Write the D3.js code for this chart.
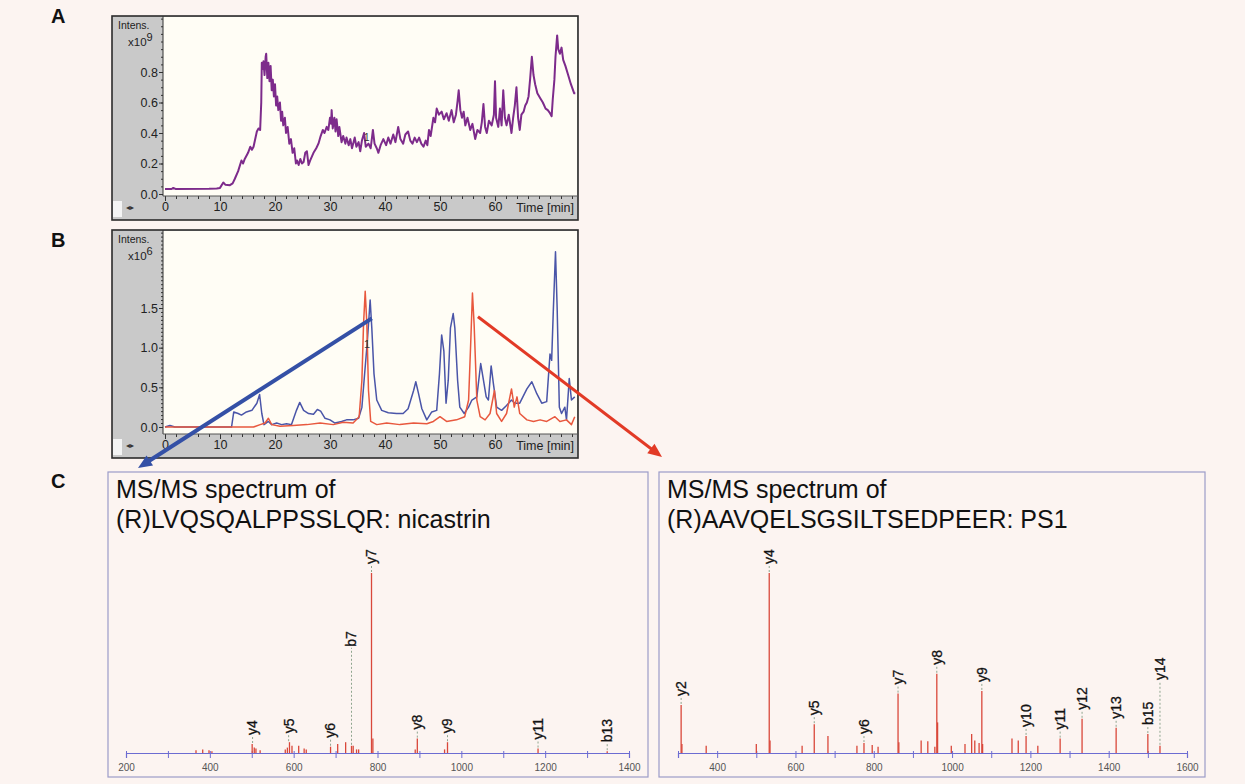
<!DOCTYPE html>
<html>
<head>
<meta charset="utf-8">
<script src="https://cdn.jsdelivr.net/npm/d3@7"></script>
<style>
  body { margin: 0; background: #fcf4f1; }
  svg { display: block; font-family: "Liberation Sans", Arial, sans-serif; }
</style>
</head>
<body>
<div id="fig"></div>
<script>
// ---- data ----
// A: base peak / TIC chromatogram, [time min, intensity x10^9]
const ticA = [
  [0,0.033],[1.2,0.033],[1.5,0.04],[1.9,0.033],[8,0.034],[9.4,0.036],[10,0.04],[10.6,0.075],[11,0.06],
  [11.8,0.058],[12.3,0.07],[12.7,0.10],[13.3,0.15],[13.9,0.22],[14.2,0.20],[14.5,0.23],[15.1,0.27],
  [15.5,0.31],[15.8,0.29],[16.1,0.31],[16.7,0.41],[17.0,0.43],[17.3,0.42],[17.5,0.60],[17.6,0.86],
  [17.8,0.82],[17.9,0.87],[18.1,0.78],[18.3,0.90],[18.4,0.92],[18.6,0.76],[18.8,0.86],[19.0,0.74],
  [19.2,0.84],[19.4,0.68],[19.6,0.75],[19.8,0.64],[20.0,0.72],[20.2,0.58],[20.4,0.64],[20.6,0.55],
  [20.9,0.60],[21.1,0.48],[21.3,0.54],[21.5,0.45],[21.8,0.50],[22.0,0.40],[22.3,0.44],[22.6,0.33],
  [22.9,0.36],[23.2,0.27],[23.5,0.30],[23.8,0.20],[24.0,0.22],[24.3,0.19],[24.6,0.23],[24.9,0.20],
  [25.2,0.21],[25.5,0.27],[25.8,0.28],[26.1,0.19],[26.4,0.22],[27.0,0.27],[27.5,0.30],[27.9,0.33],
  [28.3,0.38],[28.7,0.42],[29.0,0.40],[29.4,0.44],[29.7,0.42],[30.0,0.50],[30.2,0.46],[30.3,0.55],
  [30.5,0.43],[30.8,0.50],[31.0,0.41],[31.2,0.49],[31.5,0.38],[31.7,0.44],[32.1,0.34],[32.4,0.38],
  [32.8,0.33],[33.0,0.37],[33.4,0.32],[33.7,0.36],[34.0,0.30],[34.5,0.37],[34.8,0.31],[35.2,0.34],
  [35.5,0.28],[35.8,0.35],[36.2,0.40],[36.5,0.31],[37.0,0.33],[37.4,0.30],[37.8,0.42],[38.1,0.33],
  [38.5,0.30],[38.8,0.27],[39.2,0.32],[39.7,0.36],[40.2,0.32],[40.6,0.37],[41.0,0.33],[41.5,0.39],
  [41.9,0.34],[42.4,0.44],[42.8,0.36],[43.3,0.33],[43.7,0.39],[44.2,0.41],[44.6,0.35],[45.0,0.33],
  [45.4,0.37],[45.8,0.34],[46.2,0.37],[46.6,0.33],[47.0,0.31],[47.4,0.35],[47.7,0.32],[48.0,0.42],
  [48.3,0.38],[48.8,0.50],[49.1,0.47],[49.4,0.56],[49.8,0.52],[50.3,0.54],[50.7,0.49],[51.2,0.53],
  [51.6,0.48],[52.1,0.55],[52.5,0.47],[52.9,0.52],[53.2,0.61],[53.4,0.68],[53.7,0.55],[54.0,0.50],
  [54.3,0.54],[54.6,0.45],[55.0,0.50],[55.5,0.42],[55.9,0.46],[56.4,0.36],[56.8,0.42],[57.3,0.40],
  [57.6,0.47],[57.9,0.59],[58.2,0.44],[58.5,0.40],[58.9,0.48],[59.4,0.45],[59.8,0.52],[60.0,0.74],
  [60.2,0.50],[60.6,0.44],[60.9,0.56],[61.2,0.45],[61.5,0.68],[61.8,0.50],[62.1,0.45],[62.5,0.52],
  [63.0,0.40],[63.3,0.50],[63.6,0.58],[63.9,0.70],[64.2,0.50],[64.5,0.42],[64.8,0.52],[65.2,0.54],
  [65.5,0.58],[65.8,0.60],[66.1,0.64],[66.4,0.76],[66.7,0.90],[67.0,0.78],[67.3,0.72],[67.7,0.66],
  [68.2,0.63],[68.7,0.60],[69.2,0.56],[69.6,0.55],[70.0,0.53],[70.3,0.51],[70.5,0.62],[70.8,0.75],
  [71.0,0.90],[71.3,1.04],[71.5,0.95],[71.8,0.92],[72.1,0.96],[72.4,0.88],[72.8,0.84],[73.3,0.78],
  [73.8,0.72],[74.4,0.66],[74.6,0.66]
];

// B: extracted ion chromatograms, [time min, intensity x10^6]
const eicBlue = [
  [0,0],[0.9,0.02],[1.8,0],[12.1,0],[12.5,0.19],[13.3,0.17],[13.9,0.15],[14.8,0.19],[15.8,0.21],
  [16.7,0.30],[17.2,0.41],[17.6,0.17],[18.0,0.03],[18.8,0.07],[19.4,0.03],[20.3,0.05],[21.2,0.03],
  [22.1,0.04],[23.0,0.03],[23.9,0.21],[24.5,0.31],[25.2,0.21],[26.1,0.17],[27.0,0.16],[27.7,0.22],
  [28.3,0.20],[29.1,0.11],[30.0,0.09],[30.9,0.05],[32.1,0.07],[33.0,0.09],[34.2,0.09],[35.2,0.11],
  [35.8,0.25],[36.2,0.59],[36.8,1.09],[37.3,1.60],[37.6,1.25],[38.0,0.67],[38.5,0.34],[39.4,0.21],
  [40.6,0.18],[42.1,0.17],[43.3,0.17],[44.2,0.23],[45.2,0.46],[45.6,0.57],[46.1,0.42],[46.7,0.23],
  [47.6,0.09],[48.5,0.19],[49.4,0.21],[49.9,0.67],[50.3,1.16],[50.7,0.96],[51.1,0.30],[51.5,0.59],
  [51.9,1.25],[52.4,1.43],[52.7,1.25],[53.2,0.59],[53.6,0.25],[54.4,0.17],[55.2,0.25],[55.8,0.34],
  [56.7,0.38],[57.4,0.80],[57.9,0.59],[58.4,0.38],[58.8,0.34],[59.3,0.77],[59.7,0.55],[60.3,0.25],
  [61.2,0.21],[62.1,0.27],[63.0,0.34],[63.6,0.30],[64.5,0.30],[65.8,0.48],[66.7,0.57],[67.6,0.42],
  [68.5,0.30],[69.4,0.32],[70.0,0.92],[70.3,0.84],[70.6,1.46],[71.0,2.21],[71.3,1.50],[71.7,0.25],
  [72.1,0.17],[72.7,0.25],[73.0,0.09],[73.5,0.61],[73.9,0.34],[74.5,0.38]
];
const eicRed = [
  [0,0],[16.1,0],[17.3,0.03],[18.2,0.05],[18.8,0.11],[19.4,0.03],[20.9,0.01],[23.3,0.02],[25.8,0.03],
  [28.2,0.05],[30.6,0.03],[32.4,0.06],[34.2,0.05],[35.3,0.13],[35.8,0.59],[36.1,1.30],[36.4,1.71],
  [36.7,1.30],[37.0,0.46],[37.4,0.07],[38.5,0.03],[40.3,0.05],[42.7,0.03],[45.2,0.05],[47.6,0.04],
  [48.8,0.07],[50.0,0.13],[51.2,0.07],[53.0,0.09],[54.5,0.13],[55.2,0.34],[55.6,1.09],[55.9,1.69],
  [56.2,1.30],[56.7,0.34],[57.3,0.13],[58.2,0.09],[59.1,0.17],[59.9,0.46],[60.3,0.17],[61.2,0.07],
  [62.1,0.17],[63.0,0.48],[63.5,0.25],[64.0,0.38],[64.5,0.17],[65.8,0.09],[67.0,0.07],[68.2,0.09],
  [69.4,0.07],[70.9,0.13],[71.8,0.07],[73.0,0.09],[73.9,0.03],[74.5,0.13]
];

const timeTicks = [0, 10, 20, 30, 40, 50, 60];
const ticksA = [0, 0.2, 0.4, 0.6, 0.8];
const ticksB = [0, 0.5, 1.0, 1.5];

// C: MS/MS peaks, [m/z, relative intensity %]
const peaksNic = [
  [367,1.5],[383,2],[398,1.5],[405,1],[501,5],[506,3],[510,2.5],[520,1.5],[580,2],[585,3],[590,6],
  [596,4],[612,4],[625,2.5],[630,2],[688,3.5],[705,5],[724,6],[738,4],[742,4],[750,2],[755,2],
  [785.7,100],[789,8],[890,2],[895,8],[960,2],[967,6],[1183,2.5],[1348,1]
];
const ionsNic = [
  // name, m/z, intensity %, label level %
  ["y4",502,5,5],["y5",588,6,6],["y6",688,3.5,3.5],["b7",738,4,54],["y7",785.7,100,100],
  ["y8",895,8,8],["y9",967,6,6],["y11",1183,2.5,2.5],["b13",1348,1,1]
];
const peaksPS1 = [
  [308,26.7],[310,5],[372,4],[500,5],[533,100],[535,7],[617,4],[648,16],[683,9.5],[757,4],[775,5.5],
  [796,4.5],[811,3.5],[862,33],[864,6],[921,7],[938,6.5],[956,3.5],[961,44],[963,17],[998,4],
  [1033,5],[1050,10.5],[1058,7],[1069,5.5],[1076,34.5],[1078,5],[1153,8],[1169,7],[1189,9.5],
  [1219,4],[1276,8],[1332,19],[1419,14],[1500,10.5],[1531,4]
];
const ionsPS1 = [
  ["y2",308,26.7,26.7],["y4",533,100,100],["y5",648,16,16],["y6",775,5.5,5.5],["y7",862,33,33],
  ["y8",961,44,44],["y9",1076,34.5,34.5],["y10",1189,9.5,9.5],["y11",1276,8,8],["y12",1332,19,19],
  ["y13",1419,14,14],["b15",1500,10.5,10.5],["y14",1531,4,35.5]
];

// ---- layout ----
const W = 1245, H = 784;
const svg = d3.select("#fig").append("svg").attr("width", W).attr("height", H);
svg.append("rect").attr("width", W).attr("height", H).attr("fill", "#fcf4f1");

const defs = svg.append("defs");
const xT = d3.scaleLinear().domain([0, 70]).range([165, 550]);

function panelLetter(txt, y) {
  svg.append("text").attr("x", 51).attr("y", y).attr("font-size", 20).attr("font-weight", "bold")
    .attr("fill", "#111").text(txt);
}

function drawChrom(id, top, bottom, y, ticks, minorStep, expo, series) {
  const boxL = 112, boxR = 578, plotL = 163, band = bottom - 24;
  const g = svg.append("g");
  g.append("rect").attr("x", boxL).attr("y", top).attr("width", boxR - boxL).attr("height", bottom - top)
    .attr("fill", "#c9c9c9").attr("stroke", "#2b2b2b").attr("stroke-width", 1.6);
  g.append("rect").attr("x", plotL).attr("y", top + 1).attr("width", boxR - plotL - 1).attr("height", band - top - 1)
    .attr("fill", "#fffdf5");

  defs.append("clipPath").attr("id", id).append("rect")
    .attr("x", plotL + 1).attr("y", top + 1).attr("width", boxR - plotL - 2).attr("height", band - top - 1);

  // minor y ticks
  const yMax = y.invert(top + 2);
  g.append("g").attr("transform", `translate(${plotL},0)`)
    .call(d3.axisLeft(y).tickValues(d3.range(0, yMax, minorStep)).tickSize(2).tickFormat(""))
    .call(a => a.select(".domain").remove());
  // major y ticks
  g.append("g").attr("transform", `translate(${plotL},0)`)
    .call(d3.axisLeft(y).tickValues(ticks).tickSize(4).tickPadding(1).tickFormat(d3.format(".1f")))
    .call(a => a.select(".domain").remove())
    .call(a => a.selectAll("text").attr("font-size", 12.5).attr("fill", "#222").attr("font-family", "Liberation Sans, Arial"));
  g.selectAll(".tick line").attr("stroke", "#333");

  // x ticks hanging from the grey band
  g.append("g").attr("transform", `translate(0,${band})`)
    .call(d3.axisBottom(xT).tickValues(d3.range(0, 75, 2)).tickSize(3).tickFormat(""))
    .call(a => a.select(".domain").remove());
  g.append("g").attr("transform", `translate(0,${band})`)
    .call(d3.axisBottom(xT).tickValues(timeTicks).tickSize(5).tickPadding(1))
    .call(a => a.select(".domain").remove())
    .call(a => a.selectAll("text").attr("font-size", 12.5).attr("fill", "#222").attr("font-family", "Liberation Sans, Arial"));
  g.selectAll(".tick line").attr("stroke", "#333");

  // axis lines
  g.append("line").attr("x1", plotL).attr("x2", plotL).attr("y1", top).attr("y2", band).attr("stroke", "#333");
  g.append("line").attr("x1", plotL).attr("x2", boxR).attr("y1", band).attr("y2", band).attr("stroke", "#555");

  g.append("text").attr("x", boxR - 4).attr("y", band + 16).attr("text-anchor", "end")
    .attr("font-size", 12.5).attr("fill", "#222").text("Time [min]");
  g.append("text").attr("x", 118).attr("y", top + 13).attr("font-size", 10.5).attr("fill", "#222").text("Intens.");
  const ex = g.append("text").attr("x", 128).attr("y", top + 30).attr("font-size", 11.5).attr("fill", "#222");
  ex.append("tspan").text("x10");
  ex.append("tspan").attr("dy", -5).attr("font-size", 11).text(expo);

  // little scroll widget bottom left
  g.append("rect").attr("x", boxL + 1).attr("y", band + 5).attr("width", 9).attr("height", 16).attr("fill", "#f4f4f4");
  g.append("text").attr("x", 126).attr("y", band + 14).attr("font-size", 8).attr("fill", "#333").text("◂▸");

  const line = d3.line().x(d => xT(d[0])).y(d => y(d[1]));
  const traces = g.append("g").attr("clip-path", `url(#${id})`);
  series.forEach(s => {
    traces.append("path").datum(s.data).attr("d", line).attr("fill", "none")
      .attr("stroke", s.color).attr("stroke-width", s.width).attr("stroke-linejoin", "round");
  });
  return g;
}

// A
panelLetter("A", 23);
const yA = d3.scaleLinear().domain([0, 0.8]).range([194, 72]);
const gA = drawChrom("clipA", 16, 220, yA, ticksA, 0.05, "9", [{ data: ticA, color: "#7d2b8b", width: 2 }]);
gA.append("text").attr("x", xT(36.2)).attr("y", yA(0.35)).attr("font-size", 10).attr("fill", "#333").text("1");

// B
panelLetter("B", 247);
const yB = d3.scaleLinear().domain([0, 1.5]).range([427, 308]);
const gB = drawChrom("clipB", 230, 458, yB, ticksB, 0.05, "6", [
  { data: eicBlue, color: "#4a55a8", width: 1.5 },
  { data: eicRed, color: "#e8583e", width: 1.5 }
]);
gB.append("text").attr("x", xT(36.2)).attr("y", yB(1.0)).attr("font-size", 11).attr("fill", "#333").text("1");

// C
panelLetter("C", 488);

function drawSpectrum(boxX, boxW, domain, range, axisFrom, peaks, ions, title) {
  const base = 753;
  const g = svg.append("g");
  g.append("rect").attr("x", boxX).attr("y", 472).attr("width", boxW).attr("height", 305)
    .attr("fill", "#fcf4f1").attr("stroke", "#9b9bc9").attr("stroke-width", 1.2);
  title.forEach((t, i) => {
    g.append("text").attr("x", boxX + 8).attr("y", 498 + i * 30).attr("font-size", 25)
      .attr("fill", "#111").text(t);
  });
  const x = d3.scaleLinear().domain(domain).range(range);
  const y = d3.scaleLinear().domain([0, 100]).range([base, 573]);

  const ax = g.append("g").attr("transform", `translate(0,${base})`)
    .call(d3.axisBottom(x).tickValues(d3.range(axisFrom, domain[1] + 1, 100)).tickSize(5).tickPadding(6)
      .tickFormat(d => d % 200 === 0 ? d : ""));
  ax.select(".domain").attr("stroke", "#6c6cd2").attr("stroke-width", 1.2);
  ax.selectAll(".tick line").attr("stroke", "#6c6cd2").attr("y1", -2);
  ax.selectAll("text").attr("font-size", 10).attr("fill", "#555").attr("font-family", "Liberation Sans, Arial");

  g.append("g").selectAll("line").data(peaks).enter().append("line")
    .attr("x1", d => x(d[0])).attr("x2", d => x(d[0]))
    .attr("y1", base).attr("y2", d => y(d[1]))
    .attr("stroke", "#d9473a").attr("stroke-width", 1.3);

  const lab = g.append("g").selectAll("g").data(ions).enter().append("g");
  lab.append("line")
    .attr("x1", d => x(d[1])).attr("x2", d => x(d[1]))
    .attr("y1", d => y(d[2]) - 1).attr("y2", d => y(d[3]) - 8)
    .attr("stroke", "#8fa58f").attr("stroke-dasharray", "2,2");
  lab.append("text")
    .attr("transform", d => `translate(${x(d[1])},${y(d[3]) - 9}) rotate(-90)`)
    .attr("dy", "0.35em").attr("font-size", 14).attr("fill", "#111").attr("stroke", "#111")
    .attr("stroke-width", 0.3).text(d => d[0]);
}

drawSpectrum(108, 540, [200, 1400], [126, 629], 200, peaksNic, ionsNic,
  ["MS/MS spectrum of", "(R)LVQSQALPPSSLQR: nicastrin"]);
drawSpectrum(659, 546, [300, 1600], [678, 1187], 300, peaksPS1, ionsPS1,
  ["MS/MS spectrum of", "(R)AAVQELSGSILTSEDPEER: PS1"]);

// arrows from the EIC peaks to the spectra
function arrow(t, inten, tip, color, width, head) {
  const x0 = xT(t), y0 = yB(inten);
  const dx = tip[0] - x0, dy = tip[1] - y0, len = Math.hypot(dx, dy);
  const ux = dx / len, uy = dy / len;
  const bx = tip[0] - ux * head[0], by = tip[1] - uy * head[0];
  svg.append("line").attr("x1", x0).attr("y1", y0).attr("x2", bx + ux * 2).attr("y2", by + uy * 2)
    .attr("stroke", color).attr("stroke-width", width);
  svg.append("path")
    .attr("d", `M${tip[0]},${tip[1]}L${bx - uy * head[1]},${by + ux * head[1]}L${bx + uy * head[1]},${by - ux * head[1]}Z`)
    .attr("fill", color);
}
arrow(37.6, 1.37, [138, 468], "#3450a6", 4, [14, 6]);
arrow(56.9, 1.39, [662, 457], "#e23a26", 3, [14, 6]);
</script>
</body>
</html>
